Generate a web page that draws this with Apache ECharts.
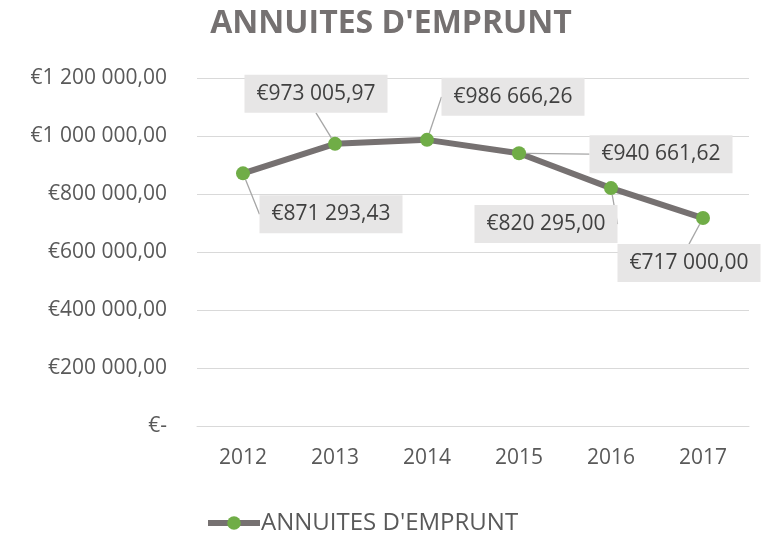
<!DOCTYPE html>
<html>
<head>
<meta charset="utf-8">
<script src="https://cdn.jsdelivr.net/npm/echarts@6/dist/echarts.min.js"></script>
<style>html,body{margin:0;padding:0;background:#fff}#c{width:782px;height:535px}</style>
</head>
<body>
<div id="c"></div>
<script>
const titleText = "ANNUITES D'EMPRUNT";
const seriesName = "ANNUITES D'EMPRUNT";
const categories = ['2012', '2013', '2014', '2015', '2016', '2017'];
const values = [871293.43, 973005.97, 986666.26, 940661.62, 820295.00, 717000.00];
const yTicks = [0, 200000, 400000, 600000, 800000, 1000000, 1200000];
// label offsets (dx, dy) from each point to the label box centre
const labelDx = [88, -19, 86, 142, -65, -14];
const labelDy = [41, -50, -43, 1, 36, 45];

function frNumber(v) {
  const parts = v.toFixed(2).split('.');
  const intPart = parts[0].replace(/\B(?=(\d{3})+(?!\d))/g, ' ');
  return '€' + intPart + ',' + parts[1];
}

const chart = echarts.init(document.getElementById('c'), null, {renderer: 'canvas'});
chart.setOption({
  animation: false,
  textStyle: {fontFamily: 'Open Sans'},
  title: {
    text: titleText, left: 'center', top: 3,
    textStyle: {fontFamily: 'Open Sans', fontWeight: 'bold', fontSize: 32, color: '#757171'}
  },
  legend: {
    bottom: -5, left: 200, itemWidth: 52, itemHeight: 17, itemGap: 4,
    lineStyle: {width: 6, color: '#767171'},
    textStyle: {fontFamily: 'Open Sans', fontSize: 24, color: '#595959', padding: [0, 0, 0, -4]},
    data: [seriesName]
  },
  grid: {left: 197, right: 33, top: 78, bottom: 109},
  xAxis: {
    type: 'category', data: categories, boundaryGap: true,
    axisLine: {show: true, lineStyle: {color: '#d9d9d9', width: 1}},
    axisTick: {show: false},
    axisLabel: {fontFamily: 'Open Sans', fontSize: 21, color: '#595959', margin: 22}
  },
  yAxis: {
    type: 'value', min: 0, max: yTicks[yTicks.length - 1], interval: yTicks[1] - yTicks[0],
    axisLine: {show: false}, axisTick: {show: false},
    splitLine: {lineStyle: {color: '#d9d9d9', width: 1}},
    axisLabel: {
      fontFamily: 'Open Sans', fontSize: 21, color: '#595959', margin: 30,
      formatter: v => v === 0 ? '€-' : frNumber(v)
    }
  },
  series: [{
    name: seriesName, type: 'line', data: values,
    symbol: 'circle', symbolSize: 14,
    itemStyle: {color: '#70ad47'},
    lineStyle: {color: '#767171', width: 6},
    label: {
      show: true, position: 'inside',
      formatter: p => frNumber(p.value),
      fontFamily: 'Open Sans', fontSize: 21, color: '#404040',
      backgroundColor: '#e7e6e6', padding: [7, 12, 7, 12],
      width: 119, align: 'center', lineHeight: 24
    },
    labelLine: {show: true, lineStyle: {color: '#a6a6a6', width: 1.3}},
    labelLayout: p => ({dx: labelDx[p.dataIndex], dy: labelDy[p.dataIndex]})
  }]
});
</script>
</body>
</html>
